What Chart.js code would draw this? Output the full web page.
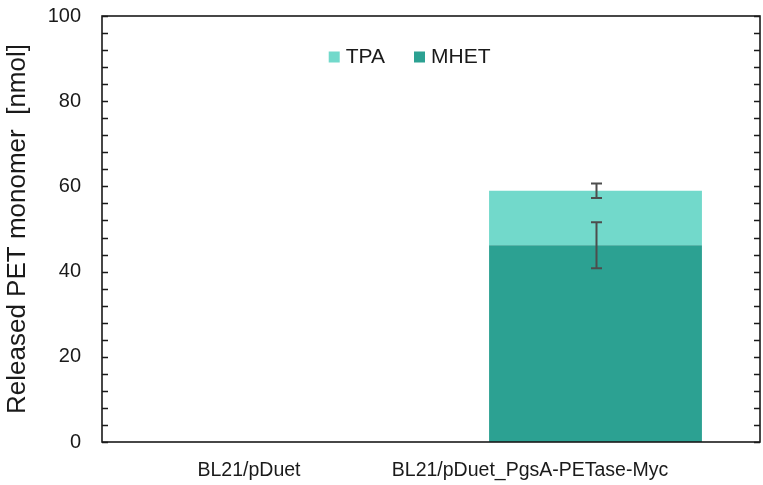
<!DOCTYPE html>
<html>
<head>
<meta charset="utf-8">
<script src="https://cdn.jsdelivr.net/npm/chart.js@4/dist/chart.umd.min.js"></script>
<style>
  html, body { margin: 0; padding: 0; background: #ffffff; }
  #wrap { width: 763px; height: 485px; }
</style>
</head>
<body>
<div id="wrap"><canvas id="chart" width="763" height="485"></canvas></div>
<script>
// Released PET monomers per strain (nmol), stacked MHET + TPA with SD error bars
const strains = ['BL21/pDuet', 'BL21/pDuet_PgsA-PETase-Myc'];
const mhet = [0, 46.2];
const tpa = [0, 12.8];
const mhetSd = [0, 5.4];
const tpaSd = [0, 1.7];

const FONT = "'Liberation Sans', Arial, Helvetica, sans-serif";
const INK = '#1a1a1a';

// Box around the plot area
const framePlugin = {
  id: 'frame',
  afterDraw(chart) {
    const { ctx, chartArea: a } = chart;
    ctx.save();
    ctx.strokeStyle = INK;
    ctx.lineWidth = 1.6;
    ctx.strokeRect(a.left, a.top, a.right - a.left, a.bottom - a.top);
    ctx.restore();
  }
};

// Inward tick marks on both vertical edges, one per y tick
const inwardTicks = {
  id: 'inwardTicks',
  afterDraw(chart, args, opts) {
    const { ctx, chartArea: a } = chart;
    const y = chart.scales.y;
    ctx.save();
    ctx.strokeStyle = INK;
    ctx.lineWidth = 1.6;
    y.ticks.forEach(t => {
      const py = Math.round(y.getPixelForValue(t.value)) + 0.5;
      ctx.beginPath();
      ctx.moveTo(a.left, py); ctx.lineTo(a.left + opts.length, py);
      ctx.moveTo(a.right, py); ctx.lineTo(a.right - opts.length, py);
      ctx.stroke();
    });
    ctx.restore();
  }
};

// Category captions under the x axis
const categoryCaptions = {
  id: 'categoryCaptions',
  afterDraw(chart, args, opts) {
    const { ctx } = chart;
    const x = chart.scales.x;
    ctx.save();
    ctx.fillStyle = INK;
    ctx.font = opts.size + 'px ' + FONT;
    ctx.textAlign = 'center';
    ctx.textBaseline = 'middle';
    strains.forEach((s, i) => {
      ctx.fillText(s, x.getPixelForValue(i) + opts.shift[i], opts.y);
    });
    ctx.restore();
  }
};

// SD error bars at the top of each stacked segment
const errorBars = {
  id: 'errorBars',
  afterDatasetsDraw(chart, args, opts) {
    const { ctx } = chart;
    const y = chart.scales.y;
    ctx.save();
    ctx.strokeStyle = opts.color;
    ctx.lineWidth = opts.width;
    chart.data.datasets.forEach((ds, di) => {
      const meta = chart.getDatasetMeta(di);
      ds.sd.forEach((sd, i) => {
        if (!sd) return;
        const bar = meta.data[i];
        const h = y.getPixelForValue(0) - y.getPixelForValue(sd);
        const cx = Math.round(bar.x) + 0.5;
        const top = bar.y - h, bottom = bar.y + h;
        ctx.beginPath();
        ctx.moveTo(cx, top); ctx.lineTo(cx, bottom);
        ctx.moveTo(cx - opts.cap, top); ctx.lineTo(cx + opts.cap, top);
        ctx.moveTo(cx - opts.cap, bottom); ctx.lineTo(cx + opts.cap, bottom);
        ctx.stroke();
      });
    });
    ctx.restore();
  }
};

// One-row legend inside the plot, top dataset first
const inPlotLegend = {
  id: 'inPlotLegend',
  afterDraw(chart, args, opts) {
    const { ctx, chartArea: a } = chart;
    ctx.save();
    ctx.font = opts.size + 'px ' + FONT;
    ctx.textBaseline = 'middle';
    ctx.textAlign = 'left';
    const items = chart.data.datasets.slice().reverse().map(ds => ({
      text: ds.label, color: ds.backgroundColor, w: ctx.measureText(ds.label).width
    }));
    const total = items.reduce((s, it) => s + opts.box + opts.gap + it.w, 0) + opts.spacing * (items.length - 1);
    let x = (a.left + a.right) / 2 + opts.dx - total / 2;
    const cy = a.top + opts.dy;
    items.forEach(it => {
      ctx.fillStyle = it.color;
      ctx.fillRect(x, cy - opts.box / 2, opts.box, opts.box);
      x += opts.box + opts.gap;
      ctx.fillStyle = INK;
      ctx.fillText(it.text, x, cy);
      x += it.w + opts.spacing;
    });
    ctx.restore();
  }
};

new Chart(document.getElementById('chart'), {
  type: 'bar',
  data: {
    labels: strains,
    datasets: [
      { label: 'MHET', data: mhet, sd: mhetSd, backgroundColor: '#2ca192', borderWidth: 0 },
      { label: 'TPA', data: tpa, sd: tpaSd, backgroundColor: '#72d9cb', borderWidth: 0 }
    ]
  },
  options: {
    responsive: false,
    animation: false,
    devicePixelRatio: 1,
    layout: { padding: { top: 16, right: 3, left: 0, bottom: 0 } },
    datasets: { bar: { barPercentage: 1, categoryPercentage: 0.647 } },
    scales: {
      x: {
        stacked: true,
        grid: { display: false, drawTicks: false },
        border: { display: false },
        ticks: { display: false },
        afterFit(s) { s.height = 43; s.paddingLeft = 0; s.paddingRight = 0; }
      },
      y: {
        stacked: true,
        min: 0, max: 100,
        grid: { display: false, drawTicks: false },
        border: { display: false },
        ticks: {
          stepSize: 4,
          autoSkip: false,
          padding: 21,
          color: INK,
          font: { family: FONT, size: 20 },
          callback: v => (v % 20 === 0 ? String(v) : '')
        },
        title: {
          display: true,
          text: 'Released PET monomer  [nmol]',
          color: INK,
          font: { family: FONT, size: 26 },
          padding: { top: 2, bottom: 0 }
        },
        afterFit(s) { s.width = 102; s.paddingTop = 0; s.paddingBottom = 0; }
      }
    },
    plugins: {
      legend: { display: false },
      tooltip: { enabled: false },
      inPlotLegend: { size: 21, box: 11, gap: 6, spacing: 29, dx: -21.4, dy: 41 },
      inwardTicks: { length: 6 },
      categoryCaptions: { size: 19.5, y: 471, shift: [-17.5, -65.5] },
      errorBars: { color: '#4d4d4d', width: 2, cap: 5.5 }
    }
  },
  plugins: [errorBars, framePlugin, inwardTicks, categoryCaptions, inPlotLegend]
});
</script>
</body>
</html>
